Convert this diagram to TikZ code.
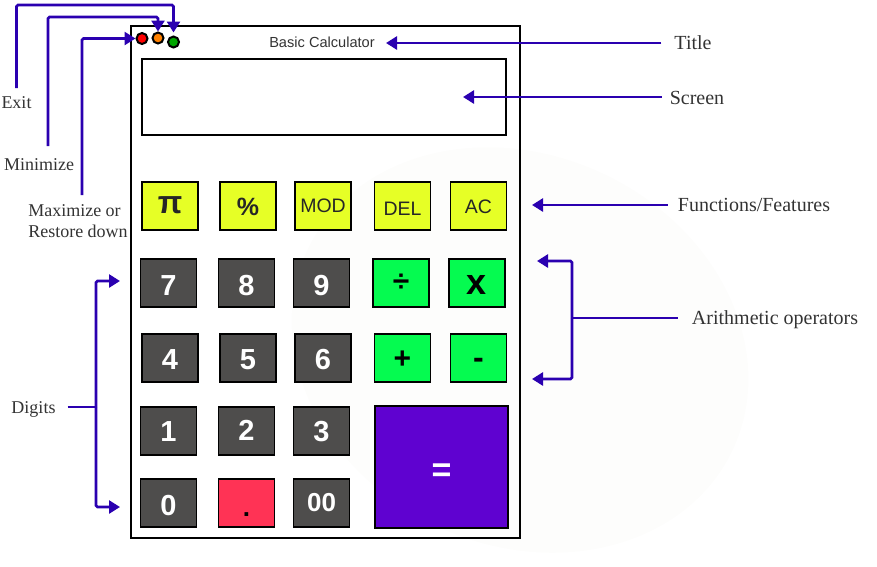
\documentclass[tikz,border=0pt]{standalone}
\usepackage{fontspec}
\setmainfont{Liberation Serif}
\newfontfamily\btnfont{Liberation Sans}
\usepackage{xcolor}
\usetikzlibrary{arrows.meta,positioning,calc}
\definecolor{linkblue}{HTML}{2A00B0}
\definecolor{fnyellow}{HTML}{E6FF26}
\definecolor{opgreen}{HTML}{05FB50}
\definecolor{digitgrey}{HTML}{4E4D4C}
\definecolor{dotred}{HTML}{FF3355}
\definecolor{eqpurple}{HTML}{5F02D0}
\definecolor{palette}{HTML}{FDFDFC}
\newcommand{\nudge}[2]{\raisebox{#1}[\height][\depth]{#2}}
\tikzset{
  btn/.style={draw=black, line width=1.7pt, inner sep=0pt, minimum width=56pt, minimum height=48pt,
    font=\btnfont\fontsize{22}{22}\selectfont\bfseries},
  fnbtn/.style={btn, fill=fnyellow, text=black!85, font=\btnfont\fontsize{19.5}{20}\selectfont},
  opbtn/.style={btn, fill=opgreen, text=black},
  digit/.style={btn, fill=digitgrey, text=white, font=\btnfont\fontsize{29}{29}\selectfont\bfseries},
  lamp/.style={circle, draw=black, line width=2pt, minimum size=11pt, inner sep=0pt},
  lab/.style={text=black!80, font=\fontsize{18}{21}\selectfont, inner sep=0pt},
  biglab/.style={lab, font=\fontsize{20}{22}\selectfont},
  link/.style={draw=linkblue, line width=2.6pt, rounded corners=1.5pt},
  linkarrow/.style={link, -{Triangle[length=11pt,width=13pt]}},
}
\begin{document}
\begin{tikzpicture}[x=1pt, y=-1pt]
  \useasboundingbox (0,0) rectangle (877,566);
  % faint palette behind the right side
  \fill[palette, rotate around={-25:(520,350)}] (520,350) ellipse (235 and 195);
  % calculator
  \node[draw=black, line width=1.7pt, minimum width=389pt, minimum height=512pt, inner sep=0pt] (body) at (325.5,282) {};
  \node[draw=black, line width=1.7pt, minimum width=364pt, minimum height=76pt, inner sep=0pt] (screen) at (324,97) {};
  \node[font=\btnfont\fontsize{14.6}{15}\selectfont, text=black!80] (title) at (322,42) {Basic Calculator};
  \node[lamp, fill=red] (red) at (142,38.5) {};
  \node[lamp, fill=orange] (amber) at (158,38) {};
  \node[lamp, fill=green!65!black] (green) at (173.5,42) {};
  % first row
  \node[fnbtn, font=\btnfont\fontsize{32}{32}\selectfont\bfseries] (pi) at (170,206) {\nudge{1pt}{π}};
  \node[fnbtn, font=\btnfont\fontsize{25}{25}\selectfont\bfseries] (pct) at (248,206) {\nudge{-1pt}{\%}};
  \node[fnbtn] (mod) at (323,206) {MOD};
  \node[fnbtn] (del) at (402.5,206) {\nudge{-3pt}{DEL}};
  \node[fnbtn] (ac) at (478.5,206) {\nudge{-1pt}{AC}};
  % second row
  \node[digit] (d7) at (168.5,283) {\nudge{-3pt}{7}};
  \node[digit] (d8) at (246.5,283) {\nudge{-3pt}{8}};
  \node[digit] (d9) at (321.5,283) {\nudge{-3pt}{9}};
  \node[opbtn, font=\btnfont\fontsize{30}{30}\selectfont\bfseries] (div) at (401,283) {÷};
  \node[opbtn, font=\btnfont\fontsize{36}{36}\selectfont\bfseries] (mul) at (477,283) {\nudge{-2pt}{x}};
  % third row
  \node[digit] (d4) at (170,358) {\nudge{-2pt}{4}};
  \node[digit] (d5) at (248,358) {\nudge{-2pt}{5}};
  \node[digit] (d6) at (323,358) {\nudge{-2pt}{6}};
  \node[opbtn, font=\btnfont\fontsize{30}{30}\selectfont\bfseries] (add) at (402.5,358) {\nudge{-2pt}{+}};
  \node[opbtn, font=\btnfont\fontsize{32}{32}\selectfont\bfseries] (sub) at (478.5,358) {\nudge{-5pt}{-}};
  % fourth and fifth rows
  \node[digit] (d1) at (168.5,431) {\nudge{-1pt}{1}};
  \node[digit] (d2) at (246.5,431) {\nudge{1pt}{2}};
  \node[digit] (d3) at (321.5,431) {\nudge{-1pt}{3}};
  \node[digit] (d0) at (168.5,503) {\nudge{-3pt}{0}};
  \node[btn, fill=dotred, text=black, font=\btnfont\fontsize{26}{26}\selectfont\bfseries] (dot) at (246.5,503) {\nudge{-12pt}{.}};
  \node[digit, font=\btnfont\fontsize{26}{26}\selectfont\bfseries] (dd) at (321.5,503) {00};
  \node[btn, fill=eqpurple, text=white, minimum width=133pt, minimum height=122pt, font=\btnfont\fontsize{34}{34}\selectfont\bfseries] (eq) at (441.5,467) {\nudge{-6pt}{=}};
  % labels
  \node[lab] (exit) at (16.5,103) {Exit};
  \node[lab] (mini) at (39,165) {Minimize};
  \node[lab, align=left] (maxi) at (78,221) {Maximize or\\Restore down};
  \node[lab] (digits) at (33.5,407) {\nudge{-2pt}{Digits}};
  \node[biglab] (ltitle) at (693,43) {Title};
  \node[biglab] (lscreen) at (697,97) {\nudge{-1pt}{Screen}};
  \node[biglab] (lfunc) at (754,205) {Functions/Features};
  \node[biglab] (larith) at (775,318) {\nudge{-2pt}{Arithmetic operators}};
  % bends and free ends of the links
  \coordinate (exs) at (16.5,88);
  \coordinate (exc) at (173.5,5);
  \coordinate (mis) at (48,146);
  \coordinate (mic) at (158,17);
  \coordinate (mas) at (82,195);
  \coordinate (tp) at (386,43);
  \coordinate (sp) at (463,97);
  \coordinate (fp) at (532,205);
  \coordinate (op1) at (537,261);
  \coordinate (op2) at (532,379);
  \coordinate (dg1) at (120,281);
  \coordinate (dg2) at (120,507);
  \coordinate (arr) at (572,318);
  \coordinate (dgj) at (96,407);
  % links
  \draw[linkarrow, shorten >=3pt] (exs) |- (exc) -- (green.north);
  \draw[linkarrow] (mis) |- (mic) -- (amber.north);
  \draw[linkarrow] (mas) |- (red.west);
  \draw[linkarrow, shorten <=13pt] (ltitle.west) -- (tp);
  \draw[linkarrow, shorten <=8pt] (lscreen.west) -- (sp);
  \draw[linkarrow, shorten <=10pt] (lfunc.west) -- (fp);
  \draw[link, shorten <=14pt] (larith.west) -- (arr);
  \draw[linkarrow] (arr) |- (op1);
  \draw[linkarrow] (arr) |- (op2);
  \draw[link, shorten <=12pt] (digits.east) -- (dgj);
  \draw[linkarrow] (dgj) |- (dg1);
  \draw[linkarrow] (dgj) |- (dg2);
\end{tikzpicture}
\end{document}
